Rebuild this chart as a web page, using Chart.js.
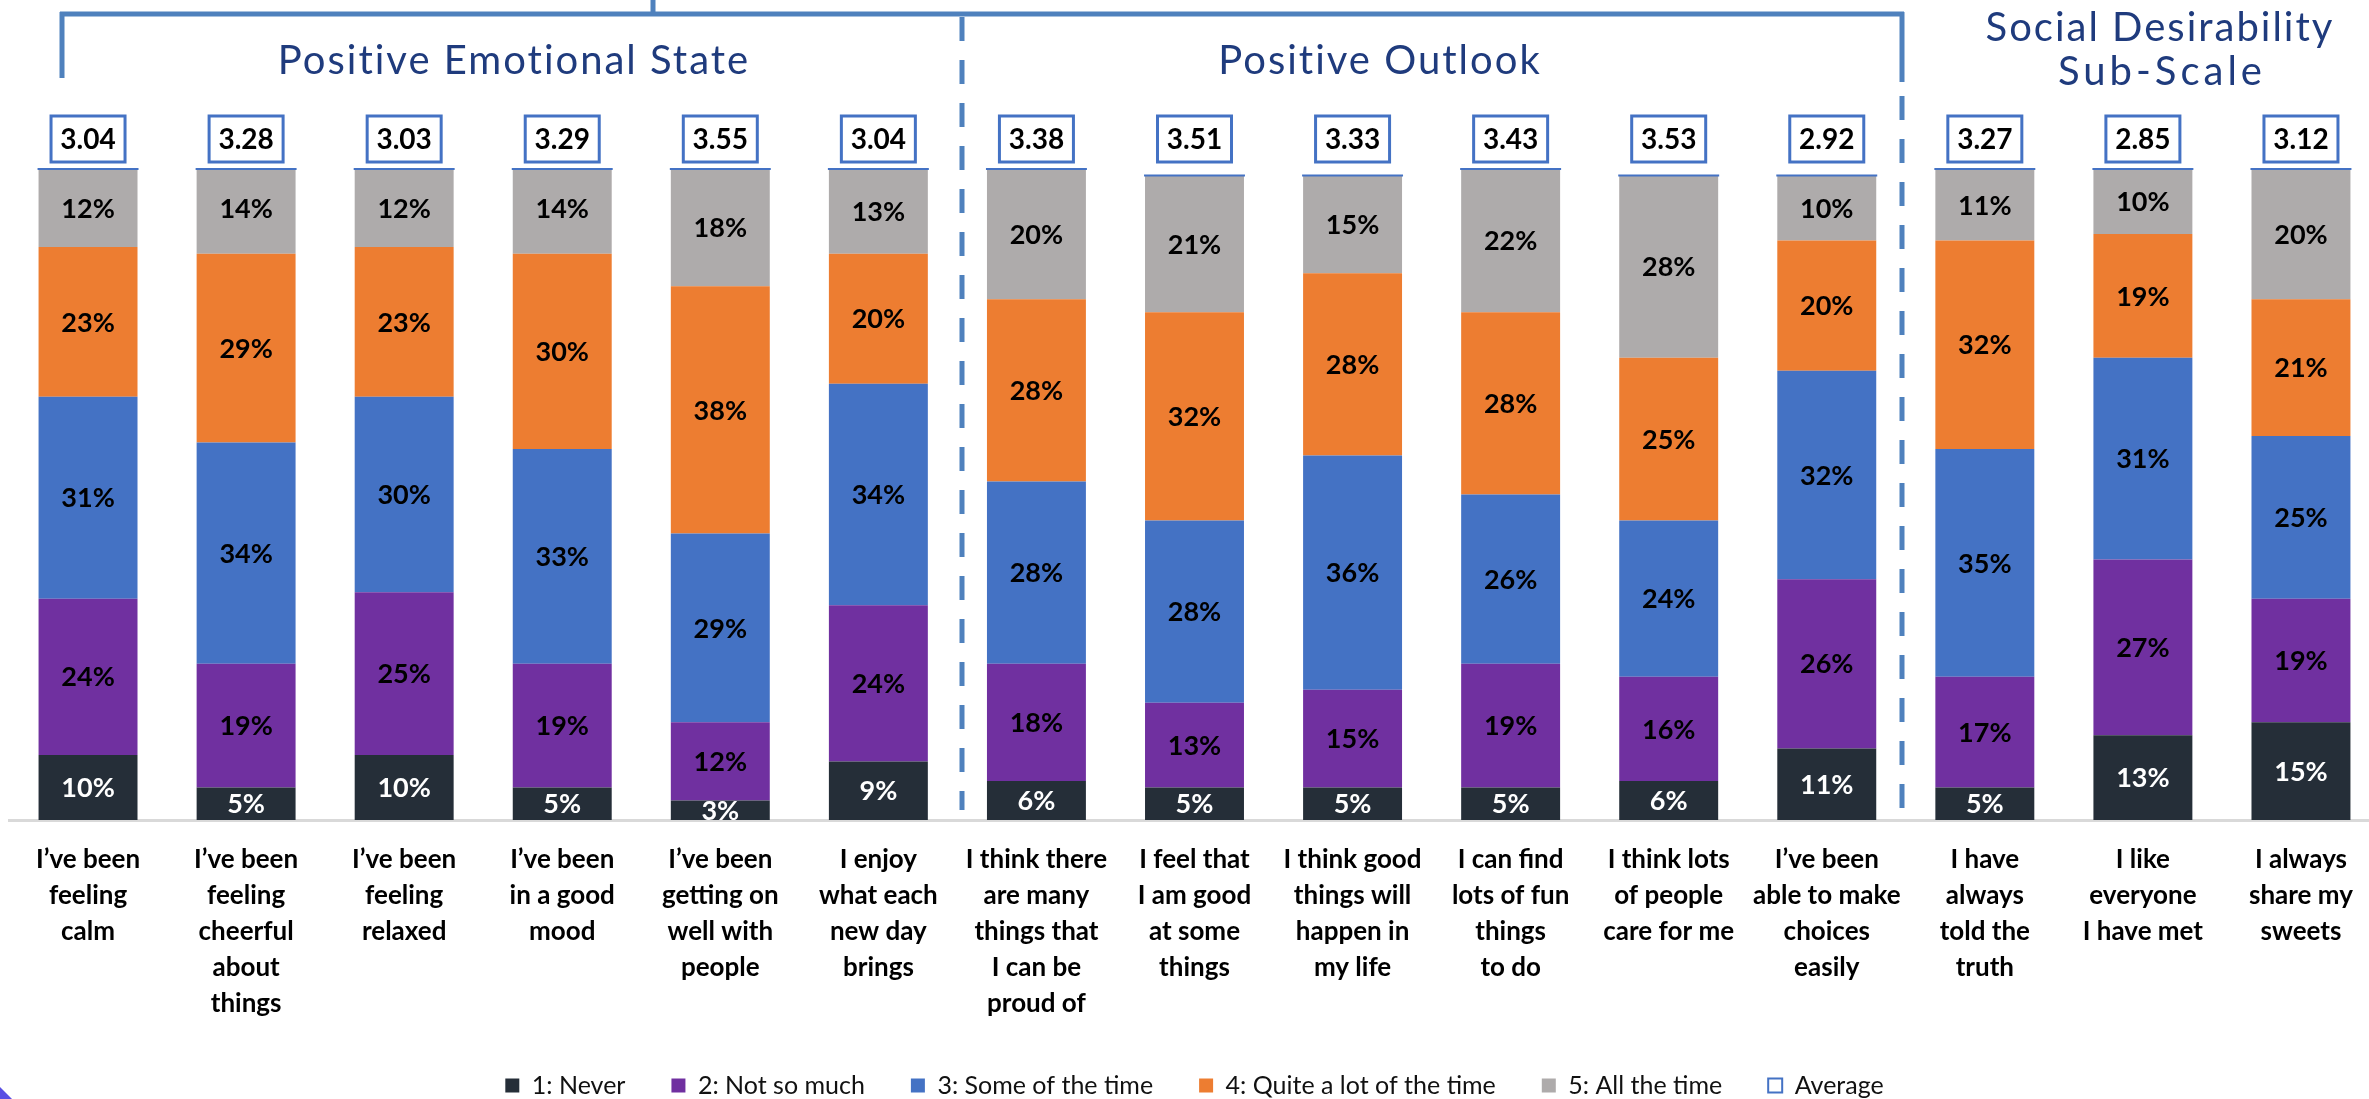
<!DOCTYPE html>
<html>
<head>
<meta charset="utf-8">
<script src="https://cdn.jsdelivr.net/npm/chart.js@4/dist/chart.umd.min.js"></script>
<style>
  html, body { margin: 0; padding: 0; background: #fff; overflow: hidden; }
  #wrap { width: 2380px; height: 1099px; position: relative; }
</style>
</head>
<body>
<div id="wrap"><canvas id="myChart"></canvas></div>
<script>
// survey statements, one array of lines per bar
const statements = [
    ["I’ve been", "feeling", "calm"],
    ["I’ve been", "feeling", "cheerful", "about", "things"],
    ["I’ve been", "feeling", "relaxed"],
    ["I’ve been", "in a good", "mood"],
    ["I’ve been", "getting on", "well with", "people"],
    ["I enjoy", "what each", "new day", "brings"],
    ["I think there", "are many", "things that", "I can be", "proud of"],
    ["I feel that", "I am good", "at some", "things"],
    ["I think good", "things will", "happen in", "my life"],
    ["I can find", "lots of fun", "things", "to do"],
    ["I think lots", "of people", "care for me"],
    ["I’ve been", "able to make", "choices", "easily"],
    ["I have", "always", "told the", "truth"],
    ["I like", "everyone", "I have met"],
    ["I always", "share my", "sweets"]
];

// % of answers per response option
const never         = [10, 5, 10, 5, 3, 9, 6, 5, 5, 5, 6, 11, 5, 13, 15];
const notSoMuch     = [24, 19, 25, 19, 12, 24, 18, 13, 15, 19, 16, 26, 17, 27, 19];
const someOfTheTime = [31, 34, 30, 33, 29, 34, 28, 28, 36, 26, 24, 32, 35, 31, 25];
const quiteALot     = [23, 29, 23, 30, 38, 20, 28, 32, 28, 28, 25, 20, 32, 19, 21];
const allTheTime    = [12, 14, 12, 14, 18, 13, 20, 21, 15, 22, 28, 10, 11, 10, 20];

// mean score (1-5) per statement
const averages = [3.04, 3.28, 3.03, 3.29, 3.55, 3.04, 3.38, 3.51, 3.33, 3.43, 3.53, 2.92, 3.27, 2.85, 3.12];

const responseNames = ["1: Never", "2: Not so much", "3: Some of the time", "4: Quite a lot of the time", "5: All the time"];
const responseColors = ["#252E38", "#7030A0", "#4472C4", "#ED7D31", "#AEABAB"];

const FONT = "Lato, 'Open Sans', sans-serif";
const BRACKET = "#4F81BD";
const HEADING = "#1F3B7D";
const PAD_BOTTOM = -9;

// percentage inside every segment
var segmentLabels = {
    id: 'segmentLabels',
    afterDatasetsDraw: function (chart) {
        var ctx = chart.ctx, a = chart.chartArea;
        ctx.save();
        ctx.beginPath();
        ctx.rect(a.left, a.top - 10, a.right - a.left, a.bottom - a.top + 10);
        ctx.clip();
        ctx.font = "bold 27px " + FONT;
        ctx.textAlign = 'center';
        ctx.textBaseline = 'middle';
        chart.data.datasets.forEach(function (ds, i) {
            if (ds.type === 'line') return;
            chart.getDatasetMeta(i).data.forEach(function (bar, j) {
                ctx.fillStyle = i === 0 ? '#fff' : '#000';
                ctx.fillText(ds.data[j] + '%', bar.x, (bar.y + bar.base) / 2 + 1);
            });
        });
        ctx.restore();
    }
};

// average score boxes above each bar
var averageBoxes = {
    id: 'averageBoxes',
    afterDatasetsDraw: function (chart) {
        var ctx = chart.ctx;
        var topMeta = chart.getDatasetMeta(4);
        ctx.save();
        topMeta.data.forEach(function (bar, j) {
            var y = Math.max(bar.y, chart.chartArea.top);
            ctx.strokeStyle = '#4472C4';
            ctx.lineWidth = 2;
            ctx.beginPath();
            ctx.moveTo(bar.x - bar.width / 2 - 1, y);
            ctx.lineTo(bar.x + bar.width / 2 + 1, y);
            ctx.stroke();

            ctx.fillStyle = '#fff';
            ctx.fillRect(bar.x - 37, 116, 74, 46);
            ctx.lineWidth = 3;
            ctx.strokeRect(bar.x - 37, 116, 74, 46);
            ctx.fillStyle = '#000';
            ctx.font = "bold 28px " + FONT;
            ctx.textAlign = 'center';
            ctx.textBaseline = 'middle';
            ctx.fillText(averages[j].toFixed(2), bar.x, 140);
        });
        ctx.restore();
    }
};

// group brackets, separators and headings
var groupHeadings = {
    id: 'groupHeadings',
    afterDraw: function (chart) {
        var ctx = chart.ctx;
        ctx.save();
        ctx.strokeStyle = BRACKET;
        ctx.lineWidth = 5;
        ctx.lineCap = 'butt';
        ctx.beginPath();
        ctx.moveTo(60, 14); ctx.lineTo(1904, 14);
        ctx.moveTo(62, 12); ctx.lineTo(62, 78);
        ctx.moveTo(653, 0); ctx.lineTo(653, 14);
        ctx.moveTo(1902, 12); ctx.lineTo(1902, 82);
        ctx.stroke();

        ctx.setLineDash([24, 19]);
        ctx.beginPath();
        ctx.moveTo(962, 17); ctx.lineTo(962, 810);
        ctx.moveTo(1902, 96); ctx.lineTo(1902, 810);
        ctx.stroke();
        ctx.setLineDash([]);

        ctx.fillStyle = HEADING;
        ctx.font = "40px " + FONT;
        ctx.letterSpacing = '2px';
        ctx.textAlign = 'center';
        ctx.textBaseline = 'middle';
        ctx.fillText("Positive Emotional State", 514, 61);
        ctx.fillText("Positive Outlook", 1380, 61);
        ctx.fillText("Social Desirability", 2160, 28);
        ctx.letterSpacing = '4px';
        ctx.fillText("Sub-Scale", 2162, 72);

        // corner decoration
        ctx.fillStyle = '#5A4FE3';
        ctx.beginPath();
        ctx.moveTo(0, 1087); ctx.lineTo(12, 1099); ctx.lineTo(0, 1099);
        ctx.closePath();
        ctx.fill();
        ctx.restore();
    }
};

var datasets = [never, notSoMuch, someOfTheTime, quiteALot, allTheTime].map(function (values, i) {
    return {
        label: responseNames[i],
        data: values,
        backgroundColor: responseColors[i],
        borderWidth: 0,
        stack: 'answers',
        barPercentage: 0.626,
        categoryPercentage: 1
    };
});
datasets.push({
    type: 'line',
    label: 'Average',
    data: averages,
    yAxisID: 'yAvg',
    showLine: false,
    pointRadius: 0,
    backgroundColor: '#fff',
    borderColor: '#4472C4',
    borderWidth: 2
});

const config = {
    type: 'bar',
    data: { labels: statements, datasets: datasets },
    options: {
        responsive: true,
        maintainAspectRatio: false,
        animation: false,
        layout: { padding: { top: 169, left: 9, right: 0, bottom: PAD_BOTTOM } },
        plugins: {
            tooltip: { enabled: false },
            legend: {
                position: 'bottom',
                labels: {
                    color: '#111',
                    font: { family: FONT, size: 25 },
                    boxWidth: 14,
                    boxHeight: 14,
                    padding: 46
                }
            }
        },
        scales: {
            x: {
                stacked: true,
                grid: { display: false, drawTicks: false },
                border: { display: true, color: '#D9D9D9', width: 3 },
                ticks: {
                    color: '#000',
                    autoSkip: false,
                    maxRotation: 0,
                    padding: 22,
                    font: { family: FONT, size: 26, weight: 'bold', lineHeight: 1.38 }
                },
                afterFit: function (scale) {
                    var legendH = scale.chart.legend ? scale.chart.legend.height : 80;
                    scale.height = 1099 - PAD_BOTTOM - legendH - 820;
                }
            },
            y: { stacked: true, display: false, min: 0, max: 100 },
            yAvg: { display: false, min: 0, max: 5 }
        }
    },
    plugins: [segmentLabels, averageBoxes, groupHeadings]
};

const myChart = new Chart(document.getElementById('myChart'), config);
</script>
</body>
</html>
